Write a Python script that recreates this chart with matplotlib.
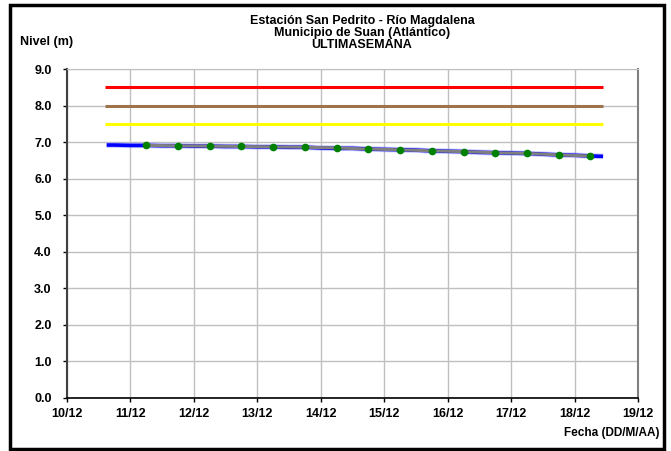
import matplotlib
matplotlib.use('Agg')
import matplotlib.pyplot as plt
from matplotlib.patches import Rectangle

plt.rcParams['font.family'] = ['Liberation Sans', 'DejaVu Sans']
plt.rcParams['font.weight'] = 'bold'

# datos del nivel (dia de diciembre como numero)
dias_nivel = [10.625, 10.75, 11.0, 11.25, 11.5, 11.75, 12.0, 12.25, 12.5, 12.75,
              13.0, 13.25, 13.5, 13.75, 14.0, 14.25, 14.5, 14.75, 15.0, 15.25,
              15.5, 15.75, 16.0, 16.25, 16.5, 16.75, 17.0, 17.25, 17.5, 17.75,
              18.0, 18.25, 18.45]
nivel = [6.92, 6.92, 6.91, 6.91, 6.90, 6.90, 6.89, 6.89, 6.88, 6.88,
         6.87, 6.87, 6.86, 6.86, 6.84, 6.83, 6.83, 6.81, 6.80, 6.79,
         6.78, 6.76, 6.75, 6.74, 6.72, 6.71, 6.70, 6.69, 6.67, 6.65,
         6.64, 6.62, 6.61]

dias_prom = [11.25, 11.75, 12.25, 12.75, 13.25, 13.75, 14.25, 14.75,
             15.25, 15.75, 16.25, 16.75, 17.25, 17.75, 18.25]
nivel_prom = [6.91, 6.90, 6.89, 6.88, 6.87, 6.86, 6.84, 6.81,
              6.79, 6.76, 6.74, 6.71, 6.69, 6.65, 6.62]

# umbrales
rango_umbral = [10.6, 18.45]
umbral_rojo = 8.5
umbral_naranja = 8.0
umbral_amarillo = 7.5

xticks = [10, 11, 12, 13, 14, 15, 16, 17, 18, 19]
xlabels = ['10/12', '11/12', '12/12', '13/12', '14/12', '15/12', '16/12', '17/12', '18/12', '19/12']
yticks = [0, 1, 2, 3, 4, 5, 6, 7, 8, 9]

fig = plt.figure(figsize=(6.71, 4.51), dpi=100)
ax = fig.add_axes([67/671, 1-398/451, (638-67)/671, (398-69)/451])

ax.plot(rango_umbral, [umbral_rojo]*2, color='#ff0000', lw=2.2, solid_capstyle='butt')
ax.plot(rango_umbral, [umbral_naranja]*2, color='#a0724a', lw=2.2, solid_capstyle='butt')
ax.plot(rango_umbral, [umbral_amarillo]*2, color='#ffff00', lw=2.2, solid_capstyle='butt')

ax.plot(dias_nivel, nivel, color='#9090ff', lw=4.0, alpha=0.5, solid_capstyle='butt')
ax.plot(dias_nivel, nivel, color='#0000ff', lw=2.6, solid_capstyle='butt')
ax.plot(dias_prom, nivel_prom, color='#808080', lw=2.2)
ax.plot(dias_prom, nivel_prom, 'o', color='#008000', ms=4.5, lw=0)

ax.set_xlim(10, 19)
ax.set_ylim(0, 9)
ax.set_xticks(xticks)
ax.set_xticklabels(xlabels, fontweight='bold', fontsize=9)
ax.set_yticks(yticks)
ax.set_yticklabels(['%.1f' % v for v in yticks], fontweight='bold', fontsize=9)
ax.grid(True, color='#c0c0c0', lw=1.0)
ax.set_axisbelow(True)
ax.tick_params(axis='x', length=3, width=1, direction='out', pad=4)
ax.tick_params(axis='y', length=3, width=1, direction='out', pad=8)

ax.spines['left'].set_color('#404040')
ax.spines['left'].set_linewidth(1.5)
ax.spines['bottom'].set_color('black')
ax.spines['bottom'].set_linewidth(1.2)
ax.spines['top'].set_color('#c0c0c0')
ax.spines['right'].set_color('#808080')
ax.spines['right'].set_linewidth(1.5)

fig.text(362/671, 1-33/451, 'Estación San Pedrito - Río Magdalena\nMunicipio de Suan (Atlántico)\nULTIMASEMANA',
         ha='center', va='center', fontsize=9, fontweight='bold', linespacing=0.95)
fig.text(20/671, 1-42/451, 'Nivel (m)', ha='left', va='center', fontsize=9, fontweight='bold')
fig.text(660/671, 1-433/451, 'Fecha (DD/M/AA)', ha='right', va='center', fontsize=8.5, fontweight='bold')

fig.patches.append(Rectangle((10/671, 1-449/451), 654/671, 444/451, transform=fig.transFigure,
                             fill=False, edgecolor='black', lw=2.5))

fig.savefig('out.png', dpi=100)
